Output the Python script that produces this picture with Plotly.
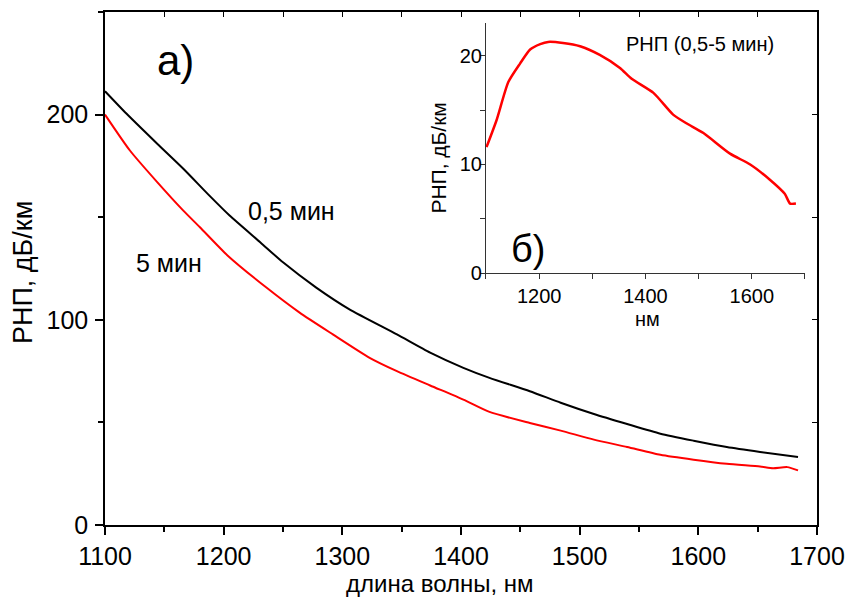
import plotly.graph_objects as go

# ---- data ----
wl_black = [1100, 1118, 1144, 1166, 1188, 1205, 1231, 1250, 1278, 1306, 1346, 1374, 1402,
            1424, 1458, 1484, 1512, 1540, 1568, 1596, 1624, 1652, 1684]
loss_05min = [211.4, 200.5, 185.8, 173.6, 160.5, 150.8, 137.7, 128.0, 115.7, 105.1, 92.9, 84.0, 76.6,
              71.7, 65.2, 59.6, 54.1, 49.2, 44.5, 41.1, 38.0, 35.6, 33.1]

wl_red = [1100, 1121, 1144, 1166, 1180, 1203, 1236, 1264, 1292, 1323, 1346, 1374, 1402, 1424,
          1458, 1484, 1512, 1540, 1568, 1596, 1624, 1652, 1663, 1675, 1684]
loss_5min = [200.0, 182.5, 167.1, 153.2, 145.1, 131.5, 115.7, 103.5, 92.9, 81.5, 75.0, 68.0, 61.1, 55.1,
             49.7, 46.0, 41.6, 38.0, 34.2, 31.8, 29.8, 28.5, 27.7, 28.2, 26.6]

wl_inset = [1101, 1120, 1142, 1164, 1183, 1202, 1217, 1245, 1277, 1314, 1352, 1374, 1415,
            1452, 1477, 1509, 1559, 1597, 1634, 1662, 1672, 1683]
loss_diff = [11.6, 14.1, 17.6, 19.3, 20.6, 21.1, 21.3, 21.2, 20.9, 20.1, 18.9, 17.9, 16.6,
             14.6, 13.8, 12.9, 11.0, 10.0, 8.6, 7.3, 6.4, 6.4]

x_range = [1100, 1700]
y_range_main = [0, 250]
y_range_inset = [0, 23]

FONT = "Liberation Sans, Arial, sans-serif"

fig = go.Figure()
fig.add_trace(go.Scatter(x=wl_black, y=loss_05min, mode="lines",
                         line=dict(color="black", width=2, shape="spline", smoothing=0.6),
                         showlegend=False))
fig.add_trace(go.Scatter(x=wl_red, y=loss_5min, mode="lines",
                         line=dict(color="#ff0000", width=2, shape="spline", smoothing=0.6),
                         showlegend=False))
fig.add_trace(go.Scatter(x=wl_inset, y=loss_diff, mode="lines", xaxis="x2", yaxis="y2",
                         line=dict(color="#ff0000", width=2.5, shape="spline", smoothing=0.6),
                         showlegend=False))
# dummy trace for mirrored top/right axes
fig.add_trace(go.Scatter(x=[], y=[], xaxis="x3", yaxis="y3", showlegend=False))

main_tick = dict(family=FONT, size=25, color="black")
inset_tick = dict(family=FONT, size=20, color="black")

fig.update_layout(
    width=845, height=590, autosize=False,
    margin=dict(l=97, r=36, t=4, b=73),
    paper_bgcolor="white", plot_bgcolor="white",
    font=dict(family=FONT, color="black"),
    xaxis=dict(range=x_range, tickmode="linear", tick0=1100, dtick=100,
               ticks="outside", ticklen=8, tickwidth=1.5, tickcolor="black",
               minor=dict(tickmode="linear", tick0=1100, dtick=50, ticks="outside",
                          ticklen=5, tickwidth=1.5, tickcolor="black"),
               showline=True, linewidth=1.5, linecolor="black", ticklabelstandoff=0,
               showgrid=False, zeroline=False, tickfont=main_tick),
    yaxis=dict(range=y_range_main, tickmode="linear", tick0=0, dtick=100,
               ticks="outside", ticklen=8, tickwidth=1.5, tickcolor="black",
               minor=dict(tickmode="linear", tick0=0, dtick=50, ticks="outside",
                          ticklen=5, tickwidth=1.5, tickcolor="black"),
               showline=True, linewidth=1.5, linecolor="black", ticklabelstandoff=2,
               showgrid=False, zeroline=False, tickfont=main_tick),
    xaxis3=dict(range=x_range, overlaying="x", side="top", anchor="y",
                tickmode="linear", tick0=1100, dtick=50, ticks="inside", ticklen=5,
                tickwidth=1.2, tickcolor="black", showticklabels=False,
                showline=True, linewidth=1.5, linecolor="black",
                showgrid=False, zeroline=False),
    yaxis3=dict(range=y_range_main, overlaying="y", side="right", anchor="x",
                tickmode="linear", tick0=0, dtick=50, ticks="inside", ticklen=5,
                tickwidth=1.2, tickcolor="black", showticklabels=False,
                showline=True, linewidth=1.5, linecolor="black",
                showgrid=False, zeroline=False),
    xaxis2=dict(domain=[0.5351, 0.9831], anchor="y2", range=x_range,
                tickmode="linear", tick0=1200, dtick=200,
                ticks="outside", ticklen=5, tickwidth=1, tickcolor="#333",
                minor=dict(tickmode="linear", tick0=1100, dtick=100, ticks="outside",
                           ticklen=5, tickwidth=1, tickcolor="#333"),
                showline=True, linewidth=1, linecolor="#333",
                showgrid=False, zeroline=False, tickfont=inset_tick),
    yaxis2=dict(domain=[0.4912, 0.9777], anchor="x2", range=y_range_inset,
                tickmode="linear", tick0=0, dtick=10,
                ticks="outside", ticklen=5, tickwidth=1, tickcolor="#333",
                minor=dict(tickmode="linear", tick0=0, dtick=5, ticks="outside",
                           ticklen=5, tickwidth=1, tickcolor="#333"),
                showline=True, linewidth=1, linecolor="#333", ticklabelstandoff=-6,
                showgrid=False, zeroline=False, tickfont=inset_tick),
)

def ann(text, x, y, size, angle=0):
    fig.add_annotation(text=text, x=x, y=y, xref="paper", yref="paper",
                       xanchor="center", yanchor="middle", showarrow=False,
                       textangle=angle, font=dict(family=FONT, size=size, color="black"))

ann("длина волны, нм", 0.47, -0.114, 24)
ann("РНП, дБ/км", -0.1152, 0.493, 27, -90)
ann("a)", 0.0997, 0.9045, 42)
ann("0,5 мин", 0.262, 0.612, 25)
ann("5 мин", 0.0899, 0.5107, 25)
ann("РНП (0,5-5 мин)", 0.8357, 0.9376, 20)
ann("б)", 0.594, 0.538, 38)
ann("нм", 0.7626, 0.4016, 20)
ann("РНП, дБ/км", 0.469, 0.716, 21, -90)

fig.write_html("out.html")
